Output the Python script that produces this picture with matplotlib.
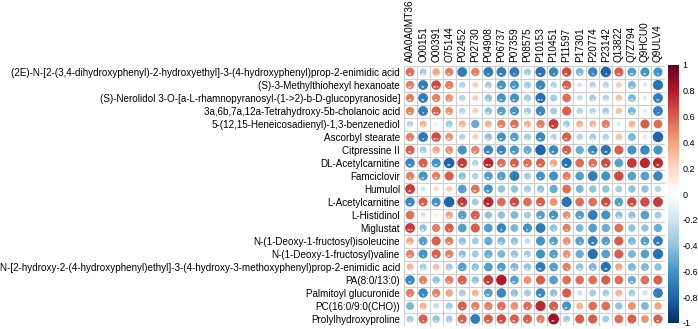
import matplotlib
matplotlib.use("Agg")
import matplotlib.pyplot as plt
import numpy as np
from matplotlib.colors import LinearSegmentedColormap, Normalize
from matplotlib.patches import Circle
from matplotlib.collections import PatchCollection

plt.rcParams['font.family'] = ['Liberation Sans', 'DejaVu Sans']

# metabolites (rows) and proteins (columns)
metabolites = [
    "(2E)-N-[2-(3,4-dihydroxyphenyl)-2-hydroxyethyl]-3-(4-hydroxyphenyl)prop-2-enimidic acid",
    "(S)-3-Methylthiohexyl hexanoate",
    "(S)-Nerolidol 3-O-[a-L-rhamnopyranosyl-(1->2)-b-D-glucopyranoside]",
    "3a,6b,7a,12a-Tetrahydroxy-5b-cholanoic acid",
    "5-(12,15-Heneicosadienyl)-1,3-benzenediol",
    "Ascorbyl stearate",
    "Citpressine II",
    "DL-Acetylcarnitine",
    "Famciclovir",
    "Humulol",
    "L-Acetylcarnitine",
    "L-Histidinol",
    "Miglustat",
    "N-(1-Deoxy-1-fructosyl)isoleucine",
    "N-(1-Deoxy-1-fructosyl)valine",
    "N-[2-hydroxy-2-(4-hydroxyphenyl)ethyl]-3-(4-hydroxy-3-methoxyphenyl)prop-2-enimidic acid",
    "PA(8:0/13:0)",
    "Palmitoyl glucuronide",
    "PC(16:0/9:0(CHO))",
    "Prolylhydroxyproline",
]
proteins = ["A0A0A0MT36", "O00151", "O00391", "O75144", "P02452", "P02730",
            "P04908", "P06737", "P07359", "P08575", "P10153", "P10451",
            "P11597", "P17301", "P20774", "P23142", "Q13822", "Q7Z794",
            "Q9HCU0", "Q9ULV4"]

# correlation values
corr = np.array([
    [0.55, -0.35, 0.40, 0.50, -0.70, 0.50, -0.70, -0.70, -0.70, -0.35,  -0.75, -0.65, 0.65, -0.45, -0.65, -0.80, 0.60, -0.55, -0.60, -0.60],
    [0.50, -0.70, 0.65, 0.50, -0.30, 0.25, -0.35, -0.60, -0.60, -0.35,  -0.65, -0.30, 0.60, -0.20, -0.30, -0.30, 0.25, -0.45, -0.15, -0.75],
    [0.50, -0.70, 0.50, 0.45, -0.30, 0.25, -0.40, -0.60, -0.60, -0.35,  -0.75, -0.35, 0.55, -0.25, -0.35, -0.30, 0.30, -0.45, -0.15, -0.70],
    [0.50, -0.70, 0.60, 0.45, -0.30, 0.25, -0.40, -0.55, -0.60, -0.35,  -0.65, -0.35, 0.60, -0.30, -0.30, -0.35, 0.30, -0.45, -0.15, -0.70],
    [-0.30, 0.35, 0.10, -0.35, 0.35, -0.50, 0.35, 0.50, 0.55, 0.35,   0.50, 0.70, -0.35, 0.35, 0.35, 0.50, -0.15, 0.35, 0.60, 0.55],
    [0.50, -0.70, 0.65, 0.45, -0.30, 0.25, -0.40, -0.60, -0.55, -0.35,  -0.65, -0.30, 0.60, -0.30, -0.35, -0.30, 0.30, -0.45, -0.15, -0.80],
    [0.60, -0.35, 0.40, 0.45, -0.60, 0.50, -0.65, -0.65, -0.60, -0.50,  -0.80, -0.65, 0.60, -0.50, -0.65, -0.75, 0.60, -0.60, -0.65, -0.60],
    [-0.65, 0.60, -0.60, -0.80, 0.70, -0.30, 0.75, 0.55, 0.60, 0.55,   0.60, 0.40, -0.75, 0.55, 0.55, 0.65, -0.55, 0.70, 0.75, 0.75],
    [0.50, -0.60, 0.50, 0.60, -0.40, -0.30, -0.55, -0.55, -0.70, -0.35,  -0.60, -0.60, 0.50, -0.55, -0.70, -0.60, 0.65, -0.55, -0.55, -0.65],
    [0.70, -0.20, 0.20, 0.25, -0.55, 0.55, -0.60, -0.40, -0.40, -0.35,  -0.40, -0.50, 0.55, -0.45, -0.40, -0.40, -0.35, -0.40, -0.40, -0.30],
    [-0.65, 0.60, -0.60, -0.80, 0.70, -0.35, 0.75, 0.55, 0.65, 0.55,   0.60, 0.45, -0.75, 0.55, 0.55, 0.65, -0.55, 0.65, 0.65, 0.70],
    [0.55, -0.20, 0.10, 0.40, -0.55, 0.60, -0.40, -0.40, -0.45, -0.35,  -0.55, -0.60, 0.45, -0.55, -0.70, -0.60, -0.40, -0.40, -0.55, -0.35],
    [0.70, -0.40, 0.50, 0.60, -0.55, 0.60, -0.55, -0.65, -0.45, -0.60,  -0.70, -0.40, 0.50, -0.45, -0.55, -0.50, 0.55, -0.40, -0.40, -0.50],
    [0.40, -0.55, 0.60, 0.50, -0.40, -0.35, -0.50, -0.45, -0.40, -0.25,  -0.60, -0.55, 0.45, -0.55, -0.70, -0.55, 0.60, -0.45, -0.55, -0.70],
    [0.50, -0.60, 0.60, 0.50, -0.40, -0.35, -0.50, -0.45, -0.40, -0.35,  -0.60, -0.55, 0.45, -0.50, -0.75, -0.55, 0.60, -0.45, -0.55, -0.75],
    [0.35, -0.35, 0.30, -0.35, -0.55, -0.40, -0.55, -0.55, -0.45, -0.40,  -0.70, -0.55, 0.50, -0.40, -0.45, -0.75, 0.40, -0.45, -0.45, -0.40],
    [-0.65, 0.50, -0.40, 0.50, 0.60, -0.40, 0.70, 0.80, -0.55, 0.45,   0.60, -0.55, 0.55, 0.55, 0.55, 0.60, 0.55, -0.50, 0.55, 0.60],
    [0.50, -0.65, 0.50, 0.40, -0.35, 0.35, -0.55, -0.65, -0.40, -0.35,  -0.65, -0.40, 0.60, -0.20, -0.35, -0.35, 0.35, -0.35, -0.20, -0.70],
    [-0.45, 0.35, -0.25, -0.35, 0.60, 0.50, 0.50, 0.55, 0.45, 0.55,   0.75, 0.60, -0.60, 0.35, 0.55, 0.55, -0.40, 0.45, -0.45, 0.40],
    [-0.35, 0.60, -0.40, -0.35, 0.60, -0.70, 0.60, 0.65, 0.60, 0.60,   0.50, 0.85, -0.35, 0.60, 0.60, -0.35, 0.55, 0.60, 0.45, 0.60],
])

# number of significance stars per cell
stars = np.array([
    [2, 2, 1, 2, 0, 1, 1, 2, 1, 1,  2, 1, 2, 2, 1, 1, 2, 2, 2, 1],
    [2, 2, 3, 1, 1, 1, 2, 2, 2, 1,  1, 2, 3, 1, 2, 2, 1, 2, 1, 0],
    [2, 2, 2, 1, 1, 1, 2, 2, 2, 1,  3, 0, 0, 1, 2, 2, 2, 2, 1, 2],
    [2, 1, 3, 2, 2, 1, 2, 2, 2, 2,  1, 0, 0, 1, 2, 2, 1, 2, 1, 1],
    [2, 1, 1, 1, 2, 0, 1, 2, 2, 1,  1, 2, 2, 1, 2, 1, 1, 1, 0, 0],
    [1, 1, 3, 2, 1, 1, 2, 2, 2, 1,  2, 2, 2, 1, 2, 1, 1, 0, 0, 0],
    [2, 2, 2, 1, 0, 2, 2, 2, 2, 1,  0, 2, 2, 0, 2, 2, 0, 0, 0, 0],
    [2, 1, 2, 2, 2, 1, 3, 2, 2, 2,  2, 2, 2, 0, 2, 2, 0, 0, 0, 2],
    [1, 2, 2, 0, 1, 0, 2, 1, 0, 0,  1, 0, 1, 0, 0, 0, 0, 0, 0, 0],
    [2, 1, 1, 1, 0, 2, 2, 0, 0, 1,  1, 0, 0, 0, 0, 0, 0, 0, 0, 0],
    [2, 2, 2, 0, 2, 0, 2, 0, 2, 0,  2, 0, 0, 0, 0, 2, 1, 2, 0, 0],
    [0, 2, 0, 2, 1, 1, 0, 0, 0, 0,  2, 2, 1, 2, 0, 0, 2, 1, 0, 0],
    [3, 2, 0, 1, 0, 0, 0, 1, 0, 1,  0, 1, 1, 0, 0, 0, 0, 0, 0, 0],
    [2, 1, 0, 2, 1, 0, 0, 2, 1, 0,  0, 2, 1, 1, 2, 1, 0, 1, 2, 2],
    [2, 1, 2, 2, 2, 0, 1, 0, 1, 2,  0, 1, 1, 0, 0, 0, 0, 0, 0, 0],
    [1, 2, 1, 1, 1, 1, 0, 2, 3, 2,  2, 1, 1, 2, 2, 2, 1, 1, 1, 0],
    [2, 1, 1, 2, 1, 1, 2, 0, 2, 0,  0, 0, 0, 0, 0, 0, 0, 2, 0, 0],
    [1, 1, 2, 0, 1, 1, 2, 0, 1, 0,  2, 1, 0, 0, 0, 1, 1, 1, 0, 0],
    [0, 1, 1, 1, 1, 2, 1, 1, 0, 1,  0, 1, 2, 0, 0, 0, 0, 0, 0, 0],
    [1, 1, 2, 1, 2, 0, 2, 2, 2, 1,  1, 2, 1, 0, 0, 0, 0, 0, 0, 2],
])

# corrplot RdBu palette
cols = ["#053061", "#2166AC", "#4393C3", "#92C5DE", "#D1E5F0", "#FFFFFF",
        "#FDDBC7", "#F4A582", "#D6604D", "#B2182B", "#67001F"]
cmap = LinearSegmentedColormap.from_list("rdbu", cols)
norm = Normalize(-1, 1)

fig = plt.figure(figsize=(6.98, 3.29), dpi=100)
ax = fig.add_axes([403.5/698, 3.5/329, 261/698, 260/329])

nr, nc = corr.shape
circles = []
vals = []
for i in range(nr):
    for j in range(nc):
        r = corr[i, j]
        circles.append(Circle((j, i), 0.45*np.sqrt(abs(r))))
        vals.append(r)
        if stars[i, j] > 0:
            ax.text(j, i + 0.22, "*"*stars[i, j], color="white", fontsize=4.2,
                    ha="center", va="center")
pc = PatchCollection(circles, cmap=cmap, norm=norm, edgecolor="none")
pc.set_array(np.array(vals))
ax.add_collection(pc)

# grid
for k in range(nc + 1):
    ax.axvline(k - 0.5, color="#cfcfcf", lw=0.8, zorder=0)
for k in range(nr + 1):
    ax.axhline(k - 0.5, color="#cfcfcf", lw=0.8, zorder=0)

ax.set_xlim(-0.5, nc - 0.5)
ax.set_ylim(nr - 0.5, -0.5)
ax.set_xticks(range(nc))
ax.set_xticklabels(proteins, rotation=90, fontsize=7.2)
ax.xaxis.tick_top()
ax.set_yticks(range(nr))
ax.set_yticklabels(metabolites, fontsize=7.1)
ax.tick_params(length=0, pad=2.5)
for s in ax.spines.values():
    s.set_visible(False)

cax = fig.add_axes([668/698, 6/329, 11/698, 258/329])
sm = plt.cm.ScalarMappable(cmap=cmap, norm=norm)
cb = fig.colorbar(sm, cax=cax, ticks=np.round(np.arange(-1, 1.01, 0.2), 1))
cb.ax.set_yticklabels(["-1", "-0.8", "-0.6", "-0.4", "-0.2", "0", "0.2", "0.4", "0.6", "0.8", "1"])
cb.ax.tick_params(length=0, labelsize=6.5, pad=2.5)
cb.outline.set_visible(False)

fig.savefig("out.png", dpi=100)
